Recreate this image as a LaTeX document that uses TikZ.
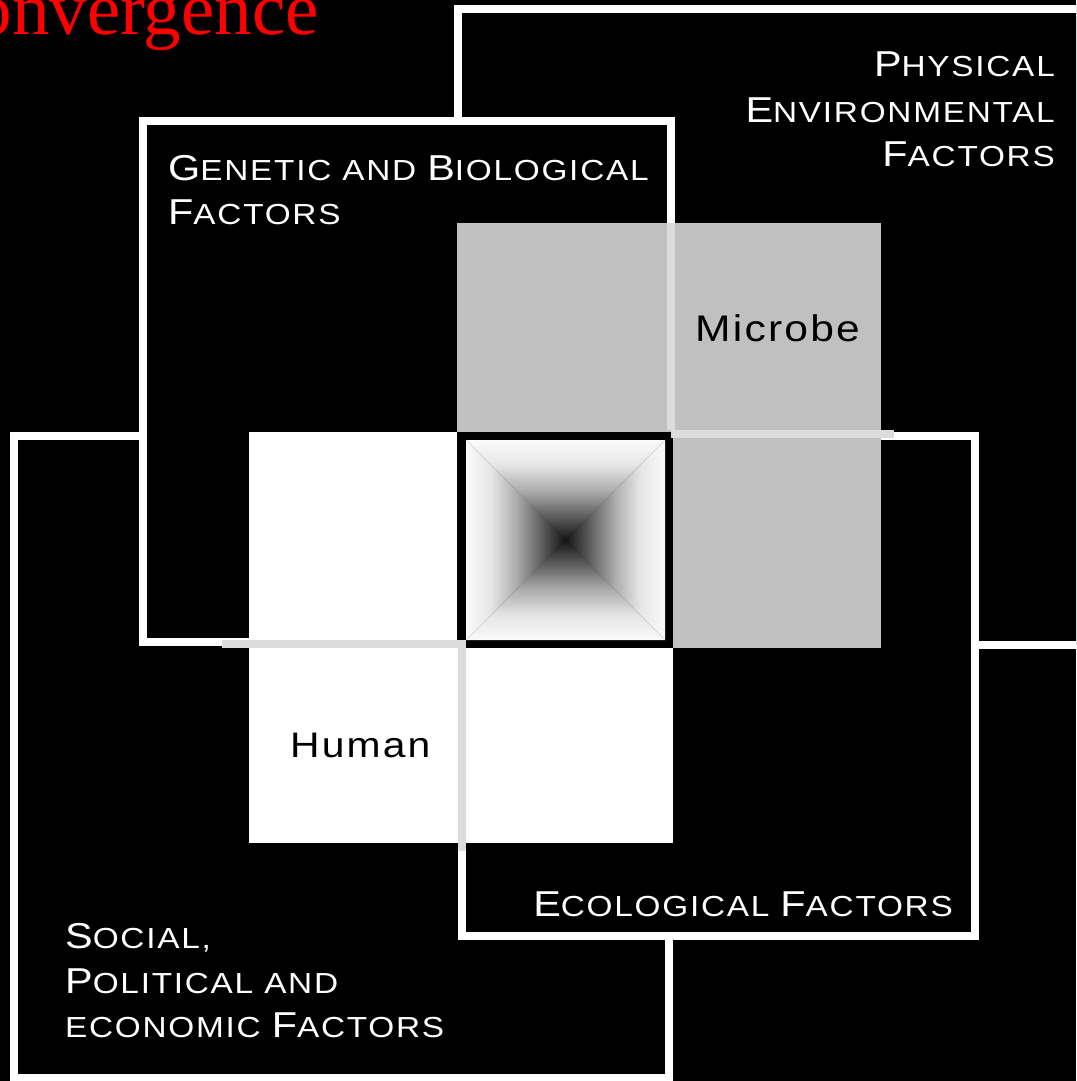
\documentclass[tikz,border=0pt]{standalone}
\usepackage{fontspec}
\newfontfamily\lab[FakeStretch=1.15,LetterSpace=6]{Liberation Sans}
\newfontfamily\ttl{Liberation Serif}
\newcommand\lbig[1]{{\fontsize{36}{45}\selectfont #1}}
\newcommand\lsml[1]{{\fontsize{29}{45}\selectfont #1}}
\definecolor{seamgrey}{HTML}{DCDCDC}
\definecolor{microgrey}{HTML}{C0C0C0}
\pgfdeclareverticalshading{pyr}{100bp}{color(0bp)=(black); color(25bp)=(black!92); color(37.5bp)=(black!62); color(50bp)=(black!32); color(62.5bp)=(black!10); color(75bp)=(black!2); color(100bp)=(black!2)}
\begin{document}
\begin{tikzpicture}[x=1pt,y=-1pt,
  frame/.style={draw=white,line width=8pt,fill=black},
  seam/.style={draw=seamgrey,line width=8pt},
  lbl/.style={inner sep=0pt,text=white,font=\lab},
  sqlbl/.style={inner sep=0pt,text=black,font=\lab\fontsize{37}{45}\selectfont}]
\useasboundingbox (0,0) rectangle (1076,1081);
\fill[black] (0,0) rectangle (1076,1081);
\clip (0,0) rectangle (1076,1081);
% factor frames
\draw[frame] (458,9) rectangle (1110,644.5);
\draw[frame] (14,436) rectangle (669,1077.5);
\draw[frame] (143,121) rectangle (671,642);
\draw[frame] (462,436) rectangle (975,936);
% microbe and human squares
\fill[microgrey] (457,223) rectangle (881,647.5);
\fill[white] (249,432) rectangle (673,843);
% centre square
\fill[black] (457,432) rectangle (673,648);
\coordinate (c) at (565.5,540);
\shade[shading=pyr] (466,440) -- (665,440) -- (c) -- cycle;
\shade[shading=pyr,shading angle=180] (466,640) -- (665,640) -- (c) -- cycle;
\shade[shading=pyr,shading angle=90] (466,440) -- (466,640) -- (c) -- cycle;
\shade[shading=pyr,shading angle=270] (665,440) -- (665,640) -- (c) -- cycle;
% seams
\draw[seam] (670.8,223) -- (670.8,430);
\draw[seam] (670.7,434) -- (894,434);
\draw[seam] (222,643.8) -- (462.2,643.8);
\draw[seam] (462.2,640) -- (462.2,851);
% title fragment
\node[anchor=base east,inner sep=0pt,text=red,font=\ttl\fontsize{75}{75}\selectfont] (title) at (319,35) {Convergence};
% labels
\node[lbl,anchor=base east] (phy1) at (1055,77) {\lbig{P}\lsml{HYSICAL}};
\node[lbl,anchor=base east] (phy2) at (1055,122) {\lbig{E}\lsml{NVIRONMENTAL}};
\node[lbl,anchor=base east] (phy3) at (1055,166) {\lbig{F}\lsml{ACTORS}};
\node[lbl,anchor=base west] (gen1) at (168,180) {\lbig{G}\lsml{ENETIC AND }\lbig{B}\lsml{IOLOGICAL}};
\node[lbl,anchor=base west] (gen2) at (168,224) {\lbig{F}\lsml{ACTORS}};
\node[sqlbl,anchor=base west] (microbe) at (695,341) {Microbe};
\node[sqlbl,anchor=base west,font=\lab\fontsize{35.5}{45}\selectfont] (human) at (290,757) {Human};
\node[lbl,anchor=base east] (eco) at (953,916) {\lbig{E}\lsml{COLOGICAL }\lbig{F}\lsml{ACTORS}};
\node[lbl,anchor=base west] (soc1) at (65,948) {\lbig{S}\lsml{OCIAL,}};
\node[lbl,anchor=base west] (soc2) at (65,993) {\lbig{P}\lsml{OLITICAL AND}};
\node[lbl,anchor=base west] (soc3) at (65,1037) {\lsml{ECONOMIC }\lbig{F}\lsml{ACTORS}};
\end{tikzpicture}
\end{document}
